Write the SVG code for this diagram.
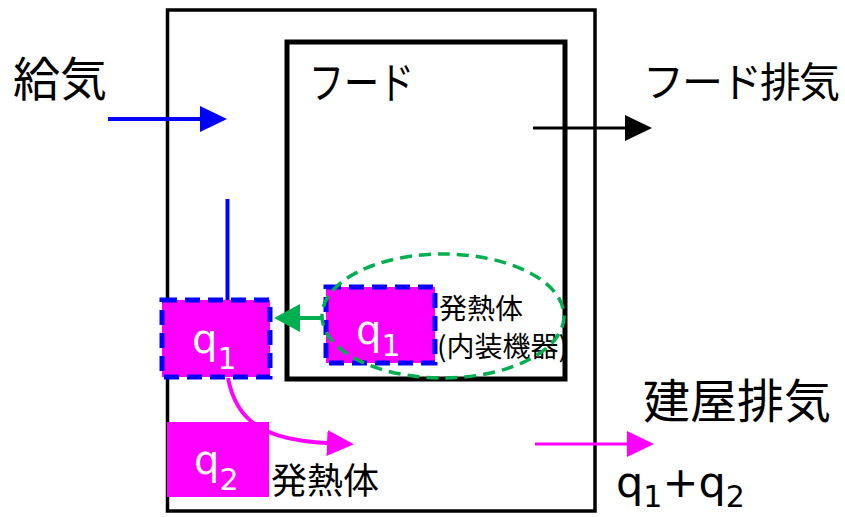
<svg xmlns="http://www.w3.org/2000/svg" width="845" height="517" viewBox="0 0 845 517">
<style>
.jp{font-family:"Noto Sans CJK JP","Noto Sans",sans-serif;fill:#000}
.q{font-family:"DejaVu Sans","Noto Sans",sans-serif;fill:#fff}
.qb{font-family:"DejaVu Sans","Noto Sans",sans-serif;fill:#000}
.box{fill:#FF00FF;stroke:#0000FF;stroke-width:5;stroke-dasharray:15 8}
</style>
<defs>
<marker id="hBlue" viewBox="0 -13 27 26" refX="0" refY="0" markerWidth="27" markerHeight="26" markerUnits="userSpaceOnUse" orient="auto"><path d="M0,-13 L27,0 L0,13 z" fill="#0000FF"/></marker>
<marker id="hBlack" viewBox="0 -13 27 26" refX="0" refY="0" markerWidth="27" markerHeight="26" markerUnits="userSpaceOnUse" orient="auto"><path d="M0,-13 L27,0 L0,13 z" fill="#000"/></marker>
<marker id="hMag" viewBox="0 -13 27 26" refX="0" refY="0" markerWidth="27" markerHeight="26" markerUnits="userSpaceOnUse" orient="auto"><path d="M0,-13 L27,0 L0,13 z" fill="#FF00FF"/></marker>
<marker id="hGreen" viewBox="0 -14 26 28" refX="0" refY="0" markerWidth="26" markerHeight="28" markerUnits="userSpaceOnUse" orient="auto"><path d="M0,-14 L26,0 L0,14 z" fill="#00B050"/></marker>
</defs>
<rect width="845" height="517" fill="#fff"/>
<g id="building">
<rect x="167.5" y="10" width="427.5" height="501" fill="none" stroke="#000" stroke-width="3.5"/>
</g>
<g id="hood">
<rect x="287" y="42" width="278" height="337" fill="none" stroke="#000" stroke-width="5"/>
<text class="jp" x="309" y="99" font-size="44" textLength="105" lengthAdjust="spacingAndGlyphs">フード</text>
</g>
<g id="label-supply"><text class="jp" x="13" y="96" font-size="47">給気</text></g>
<g id="label-hood-exhaust"><text class="jp" x="643" y="97" font-size="41" letter-spacing="-2">フード排気</text></g>
<g id="label-building-exhaust"><text class="jp" x="643" y="418" font-size="47">建屋排気</text></g>
<g id="label-sum"><text class="qb" x="616" y="497" font-size="43">q<tspan font-size="30" dy="10">1</tspan><tspan dy="-10">+</tspan>q<tspan font-size="30" dy="10">2</tspan></text></g>
<g id="q1-room">
<rect class="box" x="162" y="300" width="108" height="77"/>
<text class="q" x="192" y="353" font-size="40">q<tspan font-size="30" dy="16">1</tspan></text>
</g>
<g id="q1-hood">
<rect class="box" x="326" y="287" width="109" height="76"/>
<text class="q" x="356" y="344" font-size="40">q<tspan font-size="30" dy="12">1</tspan></text>
<text class="jp" x="439" y="319" font-size="28">発熱体</text>
<text class="jp" x="437" y="357" font-size="28">(内装機器)</text>
</g>
<g id="q2">
<rect x="167" y="422" width="102" height="75" fill="#FF00FF"/>
<text class="q" x="194" y="474" font-size="40">q<tspan font-size="30" dy="16">2</tspan></text>
<text class="jp" x="271" y="494" font-size="36">発熱体</text>
</g>
<g id="connectors">
<line x1="108" y1="119" x2="200" y2="119" stroke="#0000FF" stroke-width="4" marker-end="url(#hBlue)"/>
<line x1="227.5" y1="199" x2="227.5" y2="300" stroke="#0000FF" stroke-width="4"/>
<line x1="533" y1="128" x2="625" y2="128" stroke="#000" stroke-width="3" marker-end="url(#hBlack)"/>
<line x1="535" y1="444" x2="627" y2="444" stroke="#FF00FF" stroke-width="3" marker-end="url(#hMag)"/>
<path d="M228,378 C236,420 262,440 327,443" fill="none" stroke="#FF00FF" stroke-width="4" marker-end="url(#hMag)"/>
<ellipse cx="443" cy="316" rx="121" ry="62" fill="none" stroke="#00B050" stroke-width="3.5" stroke-dasharray="12 7"/>
<line x1="323" y1="318" x2="300" y2="318" stroke="#00B050" stroke-width="4" marker-end="url(#hGreen)"/>
</g>
</svg>
